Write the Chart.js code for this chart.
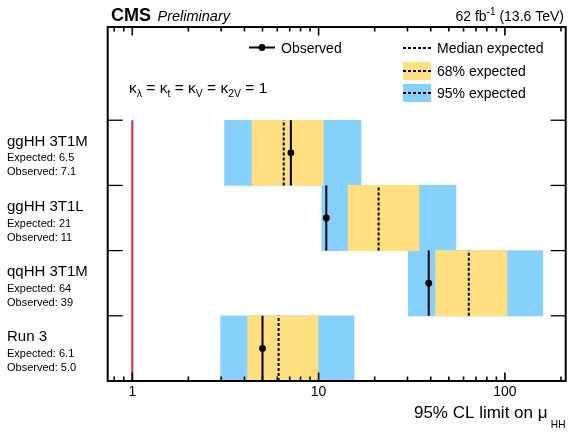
<!DOCTYPE html>
<html>
<head>
<meta charset="utf-8">
<script src="https://cdn.jsdelivr.net/npm/chart.js@4.4.0/dist/chart.umd.min.js"></script>
<style>
  html, body { margin: 0; padding: 0; background: #fff; }
  #wrap { width: 580px; height: 432px; position: relative; }
</style>
</head>
<body>
<div id="wrap"><canvas id="limits"></canvas></div>
<script>
// Data (top row first)
const categories = ['ggHH 3T1M', 'ggHH 3T1L', 'qqHH 3T1M', 'Run 3'];
const expected = [6.5, 21, 64, 6.1];
const observed = [7.1, 11, 39, 5.0];
const band68Low = [4.39, 14.4, 42.5, 4.16];
const band68High = [10.6, 34.6, 102.6, 9.93];
const band95Low = [3.13, 10.4, 30.3, 2.98];
const band95High = [16.9, 54.6, 159.6, 15.5];
const xLabels = [1, 10, 100];
const smTarget = 1;

const FONT = '"Liberation Sans", Arial, Helvetica, sans-serif';
const BLUE = '#85d1fb';
const YELLOW = '#ffdf7f';
const RED = '#e42536';

const nRows = categories.length;
const rowCenter = i => nRows - 0.5 - i;
const fmt = v => (v < 10 ? v.toFixed(1) : String(v));
const isDecade = v => Math.abs(Math.log10(v) - Math.round(Math.log10(v))) < 1e-9;

// tick values for the log axis
const xTickValues = [];
[0.1, 1, 10, 100].forEach(d => {
  for (let k = 1; k <= 9; k++) {
    const v = Math.round(k * d * 1000) / 1000;
    if (v >= 0.74 && v <= 210) xTickValues.push(v);
  }
});

const datasets = [];
categories.forEach((c, i) => {
  const yc = rowCenter(i);
  datasets.push({
    type: 'line',
    data: [{ x: observed[i], y: yc - 0.5 }, { x: observed[i], y: yc }, { x: observed[i], y: yc + 0.5 }],
    borderColor: '#000',
    borderWidth: 2,
    pointRadius: ctx => (ctx.dataIndex === 1 ? 3.4 : 0),
    pointBackgroundColor: '#000',
    pointBorderWidth: 0,
    order: 0
  });
  datasets.push({
    type: 'line',
    data: [{ x: expected[i], y: yc - 0.5 }, { x: expected[i], y: yc + 0.5 }],
    borderColor: '#000',
    borderWidth: 2,
    borderDash: [3, 2],
    pointRadius: 0,
    order: 1
  });
});
// SM reference line
datasets.push({
  type: 'line',
  data: [{ x: smTarget, y: 0 }, { x: smTarget, y: nRows }],
  borderColor: RED,
  borderWidth: 2,
  pointRadius: 0,
  order: 2
});
datasets.push({
  type: 'bar',
  indexAxis: 'y',
  grouped: false,
  data: categories.map((c, i) => ({ x: [band68Low[i], band68High[i]], y: rowCenter(i) })),
  backgroundColor: YELLOW,
  barPercentage: 1,
  categoryPercentage: 1,
  order: 3
});
datasets.push({
  type: 'bar',
  indexAxis: 'y',
  grouped: false,
  data: categories.map((c, i) => ({ x: [band95Low[i], band95High[i]], y: rowCenter(i) })),
  backgroundColor: BLUE,
  barPercentage: 1,
  categoryPercentage: 1,
  order: 4
});

function line(ctx, x1, y1, x2, y2) {
  ctx.beginPath();
  ctx.moveTo(x1, y1);
  ctx.lineTo(x2, y2);
  ctx.stroke();
}

// text with pieces: [text, size, dy]
function pieces(ctx, parts, x, y, align) {
  let total = 0;
  parts.forEach(p => { ctx.font = `${p[1]}px ${FONT}`; total += ctx.measureText(p[0]).width; });
  let cx = align === 'right' ? x - total : x;
  ctx.textAlign = 'left';
  parts.forEach(p => {
    ctx.font = `${p[1]}px ${FONT}`;
    ctx.fillText(p[0], cx, y + (p[2] || 0));
    cx += ctx.measureText(p[0]).width;
  });
}

const decor = {
  id: 'decor',
  afterDraw(chart) {
    const { ctx, chartArea: a, scales: { x, y } } = chart;
    ctx.save();
    ctx.strokeStyle = '#000';
    ctx.fillStyle = '#000';

    // row ticks on left / right
    ctx.lineWidth = 1.3;
    for (let v = 1; v <= nRows; v++) {
      const py = y.getPixelForValue(v);
      line(ctx, a.left, py, a.left + 15, py);
      line(ctx, a.right - 15, py, a.right, py);
    }
    // log ticks bottom / top
    ctx.lineWidth = 1.6;
    xTickValues.forEach(v => {
      const px = x.getPixelForValue(v);
      const len = isDecade(v) ? 8.5 : 4.5;
      line(ctx, px, a.bottom, px, a.bottom - len);
      line(ctx, px, a.top, px, a.top + len);
    });
    // frame
    ctx.lineWidth = 2;
    ctx.strokeRect(a.left, a.top, a.right - a.left, a.bottom - a.top);

    // header
    ctx.textBaseline = 'alphabetic';
    ctx.textAlign = 'left';
    ctx.font = `bold 18px ${FONT}`;
    ctx.fillText('CMS', 111, 20.5);
    ctx.font = `italic 14.5px ${FONT}`;
    ctx.fillText('Preliminary', 157.5, 20.5);
    pieces(ctx, [['62 fb', 14], ['-1', 10, -6], [' (13.6 TeV)', 14]], 564, 20.5, 'right');

    // legend
    ctx.font = `14px ${FONT}`;
    ctx.lineWidth = 2;
    ctx.setLineDash([]);
    line(ctx, 249, 47.5, 275, 47.5);
    ctx.beginPath();
    ctx.arc(262, 47.5, 3.4, 0, Math.PI * 2);
    ctx.fill();
    ctx.fillText('Observed', 281, 52.5);

    ctx.fillStyle = YELLOW;
    ctx.fillRect(403, 62, 28, 18);
    ctx.fillStyle = BLUE;
    ctx.fillRect(403, 84, 28, 18);
    ctx.fillStyle = '#000';
    ctx.setLineDash([3, 2]);
    [48, 71, 93].forEach(ly => line(ctx, 403, ly, 431, ly));
    ctx.setLineDash([]);
    ctx.fillText('Median expected', 437, 53);
    ctx.fillText('68% expected', 437, 76);
    ctx.fillText('95% expected', 437, 98);

    // coupling text
    pieces(ctx, [
      ['\u03ba', 15.5], ['\u03bb', 10.5, 4], [' = \u03ba', 15.5], ['t', 10.5, 4],
      [' = \u03ba', 15.5], ['V', 10.5, 4], [' = \u03ba', 15.5], ['2V', 10.5, 4], [' = 1', 15.5]
    ], 129, 93, 'left');

    // row labels
    categories.forEach((c, i) => {
      const yc = y.getPixelForValue(rowCenter(i));
      ctx.font = `15px ${FONT}`;
      ctx.fillText(c, 7, yc - 7);
      ctx.font = `11px ${FONT}`;
      ctx.fillText('Expected: ' + fmt(expected[i]), 7, yc + 8.5);
      ctx.fillText('Observed: ' + fmt(observed[i]), 7, yc + 22.5);
    });

    // x axis title
    pieces(ctx, [['95% CL limit on \u03bc', 17]], 547.5, 417.5, 'right');
    pieces(ctx, [['HH', 10.2]], 565.5, 428.3, 'right');
    ctx.restore();
  }
};

new Chart(document.getElementById('limits'), {
  type: 'bar',
  data: { datasets },
  options: {
    responsive: true,
    maintainAspectRatio: false,
    animation: false,
    layout: { padding: { top: 27, right: 14.3, left: 0, bottom: 0 } },
    plugins: { legend: { display: false }, tooltip: { enabled: false } },
    scales: {
      x: {
        type: 'logarithmic',
        min: 0.738,
        max: 212,
        bounds: 'data',
        offset: false,
        beginAtZero: false,
        grid: { display: false, drawTicks: false },
        border: { display: false },
        afterBuildTicks: s => { s.ticks = xTickValues.map(v => ({ value: v })); },
        afterFit: s => { s.height = 51; },
        ticks: {
          autoSkip: false,
          maxRotation: 0,
          padding: 3,
          color: '#000',
          font: { family: FONT, size: 14 },
          callback: v => (xLabels.includes(v) ? String(v) : '')
        }
      },
      y: {
        type: 'linear',
        min: 0,
        max: 5.43,
        offset: false,
        grid: { display: false, drawTicks: false },
        border: { display: false },
        afterBuildTicks: s => { s.ticks = [1, 2, 3, 4].map(v => ({ value: v })); },
        afterFit: s => { s.width = 107.7; },
        ticks: { display: false }
      }
    }
  },
  plugins: [decor]
});
</script>
</body>
</html>
